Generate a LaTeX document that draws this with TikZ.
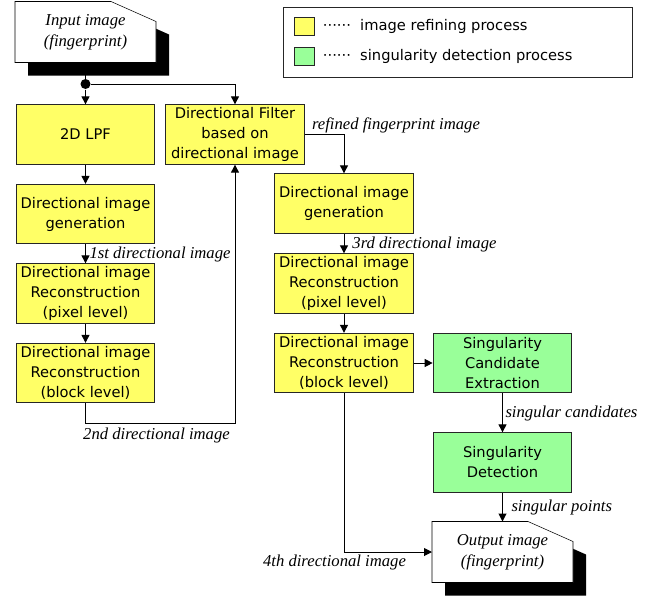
\documentclass[tikz,border=0pt]{standalone}
\usepackage{fontspec}
\setmainfont{Liberation Serif}
\newfontfamily\boxfont{DejaVu Sans}
\usetikzlibrary{arrows.meta,backgrounds}
\definecolor{refine}{HTML}{FFFF66}
\definecolor{detect}{HTML}{99FF99}

\begin{document}
\begin{tikzpicture}[x=0.75pt, y=-0.75pt, line width=0.75pt,
  proc/.style={draw=black!85, fill=refine, font=\boxfont\fontsize{11}{15}\selectfont,
    align=center, minimum width=104pt, minimum height=44.5pt, inner sep=1pt},
  doc/.style={minimum width=105pt, minimum height=45pt, align=center, inner sep=1pt,
    font=\itshape\fontsize{12.5}{15.75}\selectfont},
  note/.style={font=\itshape\fontsize{12.5}{14}\selectfont, inner sep=0pt},
  key/.style={draw=black!85, minimum width=15pt, minimum height=13.5pt, inner sep=0pt},
  flow/.style={-{Triangle[length=6pt,width=6pt]}}]
  \useasboundingbox (0,0) rectangle (656,596);

  \node[doc] (in)  at (85.5,32)  {Input image\\(fingerprint)};
  \node[doc] (out) at (502.5,552) {Output image\\(fingerprint)};
  \node[circle, fill, inner sep=0pt, minimum size=7.5pt] (split) at (85.5,84) {};

  \node[proc] (lpf)  at (85.5,134.5) {2D LPF};
  \node[proc] (filt) at (235,134.5)  {Directional Filter\\based on\\directional image};
  \node[proc] (gen1) at (85.5,214)   {Directional image\\generation};
  \node[proc] (pix1) at (85.5,293.5) {Directional image\\Reconstruction\\(pixel level)};
  \node[proc] (blk1) at (85.5,373)   {Directional image\\Reconstruction\\(block level)};
  \node[proc] (gen2) at (344,203.5)  {Directional image\\generation};
  \node[proc] (pix2) at (344,283.5)  {Directional image\\Reconstruction\\(pixel level)};
  \node[proc] (blk2) at (344,363)    {Directional image\\Reconstruction\\(block level)};
  \node[proc, fill=detect] (cand) at (502.5,363)   {Singularity\\Candidate\\Extraction};
  \node[proc, fill=detect] (det)  at (502.5,462.5) {Singularity\\Detection};

  % legend
  \node[draw=black!85, minimum width=261.75pt, minimum height=52.5pt] (legend) at (457.5,42) {};
  \node[key, fill=refine] (keyA) at (304,26)   {};
  \node[key, fill=detect] (keyB) at (304,56.5) {};
  \node[anchor=west, font=\boxfont\fontsize{11}{13}\selectfont] (txtA) at (318,26)   {······ \ image refining process};
  \node[anchor=west, font=\boxfont\fontsize{11}{13}\selectfont] (txtB) at (318,56.5) {······ \ singularity detection process};

  % document shapes with shadow
  \begin{scope}[on background layer]
    \fill ([shift={(13,13)}]in.north west) -- ([shift={(-32,13)}]in.north east) -- ([shift={(13,33)}]in.north east)
      -- ([shift={(13,13)}]in.south east) -- ([shift={(13,13)}]in.south west) -- cycle;
    \draw[fill=white] (in.north west) -- ([shift={(-45,0)}]in.north east) -- ([shift={(0,20)}]in.north east)
      -- (in.south east) -- (in.south west) -- cycle;
    \fill ([shift={(13,13)}]out.north west) -- ([shift={(-32,13)}]out.north east) -- ([shift={(13,33)}]out.north east)
      -- ([shift={(13,13)}]out.south east) -- ([shift={(13,13)}]out.south west) -- cycle;
    \draw[fill=white] (out.north west) -- ([shift={(-45,0)}]out.north east) -- ([shift={(0,20)}]out.north east)
      -- (out.south east) -- (out.south west) -- cycle;
  \end{scope}

  \draw (in.south) -- (split);
  \draw[flow] (split) -- (lpf);
  \draw[flow] (split) -| (filt.north);
  \draw[flow] (lpf) -- (gen1);
  \draw[flow] (gen1) -- (pix1);
  \draw[flow] (pix1) -- (blk1);
  \coordinate (turn) at (85.5,423);
  \draw[flow] (blk1) -- (turn) -| (filt.south);
  \draw[flow] (filt.east) -| (gen2.north);
  \draw[flow] (gen2) -- (pix2);
  \draw[flow] (pix2) -- (blk2);
  \draw[flow] (blk2) -- (cand);
  \draw[flow] (cand) -- (det);
  \draw[flow] (det) -- (out.north);
  \draw[flow] (blk2.south) |- (out.west);

  \node[note, anchor=west] (lab1) at (89,254)  {1st directional image};
  \node[note] (lab2) at (156.5,435)            {2nd directional image};
  \node[note] (labR) at (396,125)              {refined fingerprint image};
  \node[note] (lab3) at (424.5,244)            {3rd directional image};
  \node[note, anchor=west] (labC) at (505,413) {singular candidates};
  \node[note, anchor=west] (labP) at (511,507) {singular points};
  \node[note] (lab4) at (334.5,562)            {4th directional image};
\end{tikzpicture}
\end{document}
